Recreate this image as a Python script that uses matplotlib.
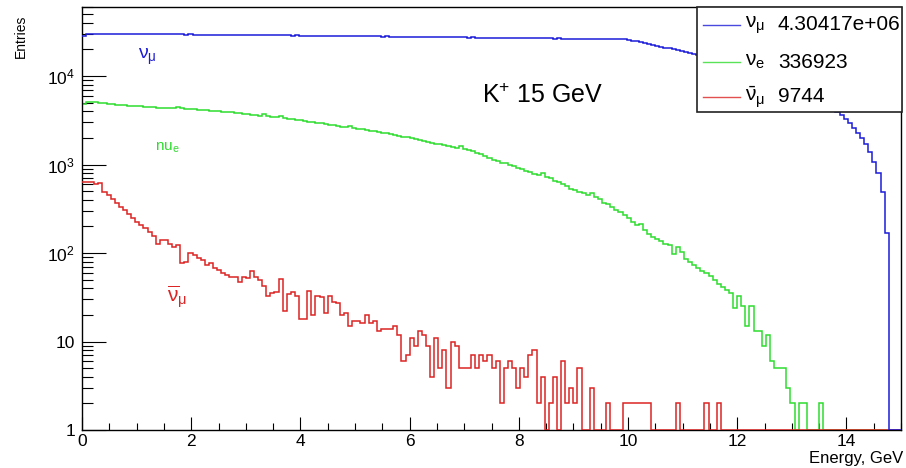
import numpy as np
import matplotlib as mpl
mpl.use('Agg')
import matplotlib.pyplot as plt
from matplotlib.patches import Rectangle
from matplotlib.lines import Line2D
from matplotlib.ticker import MultipleLocator, FixedLocator, FixedFormatter, LogLocator, NullFormatter

plt.rcParams['font.family'] = ['Liberation Sans', 'DejaVu Sans']
plt.rcParams['mathtext.fontset'] = 'custom'
plt.rcParams['mathtext.rm'] = 'Liberation Sans'
plt.rcParams['mathtext.it'] = 'Liberation Sans:italic'
plt.rcParams['mathtext.sf'] = 'Liberation Sans'

# 200 bins of 0.075 GeV, 0 - 15 GeV
e_min, e_max, n_bins = 0.0, 15.0, 200
edges = np.linspace(e_min, e_max, n_bins + 1)

# nu_mu (blue), entries 4.30417e+06
numu = [
    28500, 30000, 30100, 29900, 30000, 29950, 29900, 30000, 29850, 29900,
    29800, 29900, 29750, 29800, 29700, 29800, 29650, 29700, 29600, 29650,
    29600, 29550, 29600, 29500, 29550, 29450, 29500, 29400, 29450, 29350,
    29400, 29300, 29350, 29250, 29300, 29200, 29250, 29150, 29200, 29100,
    29100, 29050, 29000, 29050, 28950, 28900, 28950, 28850, 28800, 28850,
    28750, 28700, 28750, 28650, 28600, 28650, 28550, 28500, 28550, 28450,
    28400, 28450, 28350, 28300, 28350, 28250, 28200, 28250, 28150, 28100,
    28100, 28050, 28000, 27950, 28000, 27900, 27850, 27900, 27800, 27750,
    27750, 27700, 27650, 27700, 27600, 27550, 27600, 27500, 27450, 27500,
    27400, 27350, 27400, 27300, 27250, 27300, 27200, 27150, 27200, 27100,
    27050, 27100, 27000, 26950, 27000, 26900, 26850, 26900, 26800, 26750,
    26750, 26700, 26650, 26700, 26600, 26550, 26600, 26500, 26450, 26500,
    26400, 26350, 26400, 26300, 26250, 26300, 26200, 26150, 26200, 26100,
    26050, 25950, 25900, 25700, 25200, 24600, 24100, 23500, 23000, 22500,
    22000, 21500, 21000, 20500, 20000, 19600, 19100, 18700, 18300, 17800,
    17300, 16800, 16200, 15700, 15200, 14700, 14200, 13700, 13200, 12700,
    12200, 11800, 11400, 11000, 10600, 10200, 9800, 9400, 9000, 8600,
    8200, 7900, 7600, 7300, 7000, 6700, 6400, 6100, 5800, 5500,
    5200, 4900, 4600, 4300, 3950, 3650, 3300, 2950, 2600, 2300,
    2000, 1700, 1400, 1080, 800, 490, 170, 0, 0, 0,
]

# nu_e (green), entries 336923
nue = [
    4800, 5100, 5150, 5080, 5000, 4930, 4870, 4790, 4730, 4690,
    4660, 4630, 4600, 4560, 4530, 4500, 4440, 4420, 4400, 4380,
    4370, 4350, 4330, 4480, 4300, 4280, 4240, 4210, 4180, 4140,
    4110, 4070, 4030, 3990, 3950, 3910, 3880, 3840, 3790, 3740,
    3690, 3650, 3610, 3570, 3680, 3500, 3460, 3420, 3520, 3330,
    3290, 3240, 3200, 3150, 3110, 3060, 3000, 2960, 2910, 2860,
    2820, 2780, 2740, 2690, 2640, 2700, 2570, 2530, 2490, 2450,
    2410, 2370, 2330, 2290, 2250, 2200, 2160, 2120, 2070, 2030,
    1980, 1930, 1890, 1840, 1800, 1760, 1720, 1690, 1650, 1620,
    1590, 1550, 1600, 1510, 1470, 1420, 1350, 1310, 1250, 1180,
    1140, 1100, 1050, 1030, 990, 960, 920, 880, 850, 820,
    790, 760, 800, 730, 700, 660, 630, 600, 570, 530,
    510, 495, 475, 455, 480, 430, 405, 370, 355, 335,
    310, 292, 270, 250, 225, 207, 215, 180, 165, 153,
    145, 137, 128, 122, 97, 118, 102, 86, 79, 73,
    68, 63, 60, 55, 50, 45, 41, 38, 35, 24,
    33, 25, 15, 25, 13, 13, 9, 12, 6, 5,
    5, 5, 3, 2, 0, 2, 2, 0, 0, 0,
    2, 0, 0, 0, 0, 0, 0, 0, 0, 0,
    0, 0, 0, 0, 0, 0, 0, 0, 0, 0,
]

# anti nu_mu (red), entries 9744
numubar = [
    630, 630, 630, 600, 615, 495, 450, 410, 370, 335,
    305, 275, 250, 225, 205, 192, 175, 155, 125, 140,
    140, 128, 116, 122, 78, 79, 99, 96, 88, 84,
    74, 77, 67, 64, 60, 57, 54, 53, 47, 54,
    52, 62, 53, 50, 42, 33, 35, 36, 51, 22,
    34, 36, 33, 18, 18, 37, 20, 33, 32, 21,
    33, 28, 27, 20, 21, 15, 17, 17, 16, 20,
    16, 17, 13, 14, 14, 14, 15, 12, 6, 7,
    11, 9, 13, 12, 9, 4, 11, 5, 8, 3,
    10, 9, 5, 5, 5, 7, 5, 7, 6, 7,
    5, 6, 2, 5, 6, 5, 3, 5, 4, 7,
    8, 2, 4, 1, 2, 4, 1, 6, 2, 3,
    2, 5, 1, 1, 3, 1, 0, 1, 2, 1,
    0, 1, 2, 2, 2, 2, 2, 2, 2, 1,
    0, 1, 0, 1, 0, 2, 0, 1, 0, 1,
    0, 1, 2, 0, 1, 2, 0, 0, 1, 0,
    0, 0, 0, 0, 0, 0, 0, 0, 0, 0,
    0, 0, 0, 0, 0, 0, 0, 0, 0, 0,
    0, 0, 0, 0, 0, 0, 0, 0, 0, 0,
    0, 0, 0, 0, 0, 0, 0, 0, 0, 0,
]

entries = ['4.30417e+06', '336923', '9744']
legend_symbols = [r'$\mathrm{\nu_{\mu}}$', r'$\mathrm{\nu_{e}}$', r'$\mathrm{\bar{\nu}_{\mu}}$']
colors = ['#1c1cd8', '#2edc2e', '#dc2424']

W, H = 906, 468
fig = plt.figure(figsize=(W / 100, H / 100), dpi=100)
fig.patch.set_facecolor('white')
ax = fig.add_axes([82 / W, 38 / H, 819 / W, 423 / H])

ax.set_yscale('log')
ax.set_xlim(e_min, e_max)
ax.set_ylim(1, 6.03e4)

# empty bins drawn on the frame, like ROOT does on a log axis
ax.stairs(np.clip(nue, 1, None), edges, baseline=None, color=colors[1], lw=1.1, zorder=2)
ax.stairs(np.clip(numubar, 1, None), edges, baseline=None, color=colors[2], lw=1.1, zorder=3)
ax.stairs(np.clip(numu, 1, None), edges, baseline=None, color=colors[0], lw=1.1, zorder=4)

ax.xaxis.set_major_locator(MultipleLocator(2))
ax.xaxis.set_minor_locator(MultipleLocator(0.5))
ax.yaxis.set_major_locator(FixedLocator([1, 10, 100, 1000, 10000]))
ax.yaxis.set_major_formatter(FixedFormatter(['1', '10', r'$10^{2}$', r'$10^{3}$', r'$10^{4}$']))
ax.yaxis.set_minor_locator(LogLocator(base=10, subs=np.arange(2, 10)))
ax.yaxis.set_minor_formatter(NullFormatter())

ax.tick_params(axis='x', which='major', direction='in', length=9.4, width=0.8,
               top=False, labelsize=12.5, pad=3)
ax.tick_params(axis='x', which='minor', direction='in', length=5, width=0.8, top=False)
ax.tick_params(axis='y', which='major', direction='in', length=17, width=0.8,
               right=False, labelsize=12.5, pad=5)
ax.tick_params(axis='y', which='minor', direction='in', length=8, width=0.8, right=False)
for sp in ax.spines.values():
    sp.set_linewidth(1.0)
    sp.set_color('black')

fig.text(903 / W, 1 - 458 / H, 'Energy, GeV', ha='right', va='center', fontsize=12)
fig.text(21 / W, 1 - 15 / H, 'Entries', rotation=90, ha='center', va='top', fontsize=10)

# labels inside the pad
ax.text(1.19, 16400, r'$\mathrm{\nu_{\mu}}$', color=colors[0], ha='center', va='center', fontsize=14)
ax.text(1.57, 1535, r'nu$_{\mathrm{e}}$', color=colors[1], ha='center', va='center', fontsize=11)
ax.text(1.74, 31.8, r'$\mathrm{\overline{\nu}_{\mu}}$', color=colors[2], ha='center', va='center', fontsize=15)
ax.text(8.44, 5940, r'K$^{+}$ 15 GeV', color='black', ha='center', va='center', fontsize=18)

# legend box (ROOT TLegend style)
fig.add_artist(Rectangle((697 / W, 1 - 112 / H), (902 - 697) / W, (112 - 7) / H,
                         transform=fig.transFigure, facecolor='white',
                         edgecolor='#222222', lw=1.2, zorder=5))
row_y = [25, 62, 97]
for yy, sym, num, c in zip(row_y, legend_symbols, entries, colors):
    fig.add_artist(Line2D([703 / W, 740 / W], [1 - yy / H, 1 - yy / H],
                          transform=fig.transFigure, color=c, lw=1.0, alpha=0.8, zorder=6))
    fig.text(745 / W, 1 - yy / H, sym, ha='left', va='center', fontsize=15, zorder=6)
    fig.text(778 / W, 1 - yy / H, num, ha='left', va='center', fontsize=15, zorder=6)

fig.savefig('out.png', dpi=100)
